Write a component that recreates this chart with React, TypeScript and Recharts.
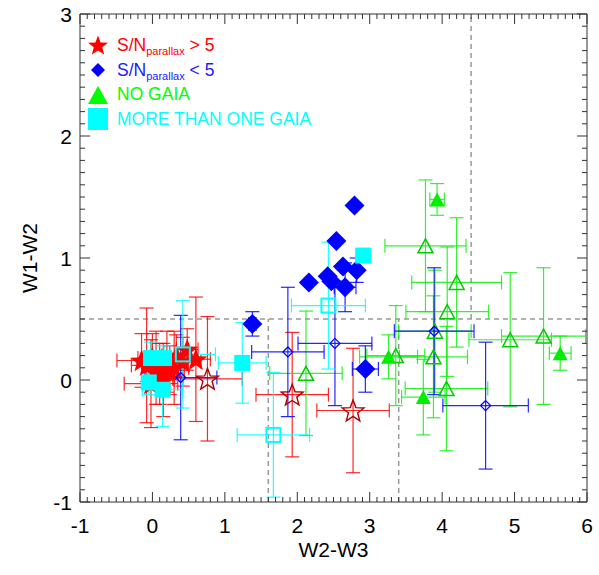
import React from 'react';
import { ScatterChart, Scatter, XAxis, YAxis, ErrorBar, ReferenceLine, Legend, Label } from 'recharts';

// ---------- data ----------
const redFilledX = [-0.15, -0.08, 0.0, -0.02, 0.1, 0.24, 0.33, 0.48, 0.6, 0.42, 0.05, 0.2, 0.3, 0.15];
const redFilledY = [0.16, 0.12, 0.18, -0.03, 0.05, 0.08, 0.2, 0.25, 0.17, 0.15, 0.1, 0.15, 0.1, 0.0];
const redFilledEx = [0.34, 0.21, 0.2, 0.37, 0.2, 0.2, 0.2, 0.15, 0.2, 0.25, 0.15, 0.15, 0.2, 0.15];
const redFilledEy = [0.22, 0.47, 0.2, 0.36, 0.25, 0.2, 0.17, 0.17, 0.51, 0.2, 0.3, 0.25, 0.3, 0.3];

const redOpenX = [0.76, 1.93, 2.77];
const redOpenY = [0.01, -0.12, -0.25];
const redOpenEx = [0.48, 0.5, 0.5];
const redOpenEy = [0.51, 0.51, 0.51];

const blueFilledX = [2.79, 2.54, 2.63, 2.82, 2.42, 2.16, 2.47, 2.66, 1.38, 2.94];
const blueFilledY = [1.43, 1.14, 0.93, 0.9, 0.85, 0.8, 0.81, 0.76, 0.46, 0.09];
const blueFilledEx = [0, 0, 0, 0, 0, 0, 0, 0.15, 0.05, 0.18];
const blueFilledEy = [0, 0, 0, 0.1, 0, 0, 0, 0.2, 0.1, 0.19];

const blueOpenX = [0.39, 1.87, 2.52, 3.89, 4.6];
const blueOpenY = [0.02, 0.23, 0.3, 0.4, -0.21];
const blueOpenEx = [0.5, 0.5, 0.51, 0.55, 0.59];
const blueOpenEy = [0.51, 0.53, 0.51, 0.52, 0.52];

const greenFilledX = [3.93, 3.26, 3.74, 5.63];
const greenFilledY = [1.48, 0.19, -0.14, 0.22];
const greenFilledEx = [0.1, 0.4, 0.3, 0.15];
const greenFilledEy = [0.13, 0.18, 0.31, 0.14];

const greenOpenX = [3.77, 4.2, 4.07, 3.9, 3.36, 3.88, 4.06, 4.94, 5.4, 2.12];
const greenOpenY = [1.1, 0.8, 0.56, 0.4, 0.2, 0.19, -0.07, 0.33, 0.36, 0.055];
const greenOpenEx = [0.56, 0.62, 0.57, 0.5, 0.4, 0.47, 0.57, 0.57, 0.58, 0.5];
const greenOpenEy = [0.54, 0.53, 0.53, 0.5, 0.41, 0.5, 0.51, 0.55, 0.56, 0.51];

const cyanFilledX = [-0.02, 0.16, -0.05, 0.14, 1.24, 2.91];
const cyanFilledY = [0.18, 0.18, -0.02, -0.08, 0.14, 1.02];
const cyanFilledEx = [0.1, 0.1, 0.1, 0.28, 0.33, 0];
const cyanFilledEy = [0.13, 0.1, 0.1, 0.3, 0.33, 0];

const cyanOpenX = [0.42, 2.43, 1.67];
const cyanOpenY = [0.21, 0.61, -0.45];
const cyanOpenEx = [0.45, 0.51, 0.5];
const cyanOpenEy = [0.44, 0.52, 0.51];

const xDomain: [number, number] = [-1, 6];
const yDomain: [number, number] = [-1, 3];
const hCutY = 0.5;
const vCutTopX = 4.4;
const vCutLowX = [1.6, 3.4];

const legendLabels = ['S/N', 'S/N', 'NO GAIA', 'MORE THAN ONE GAIA'];

// ---------- helpers ----------
const build = (xs: number[], ys: number[], exs: number[], eys: number[]) =>
  xs.map((x, i) => ({ x, y: ys[i], ex: exs[i], ey: eys[i] }));

const steps = (lo: number, hi: number) => {
  const out: number[] = [];
  const n = Math.round((hi - lo) * 10);
  for (let i = 0; i <= n; i++) out.push(Math.round((lo + i / 10) * 10) / 10);
  return out;
};
const xTicks = steps(xDomain[0], xDomain[1]);
const yTicks = steps(yDomain[0], yDomain[1]);
const isMajor = (v: number) => Math.abs(v - Math.round(v)) < 1e-6;

const FONT = '"Liberation Sans", Arial, Helvetica, sans-serif';
const MAJ = 10;
const MIN = 5;
const TICK_COLOR = '#333';

const BottomTick = (p: any) => {
  const { x, y, payload } = p;
  const m = isMajor(payload.value);
  return (
    <g>
      <line x1={x} y1={y} x2={x} y2={y - (m ? MAJ : MIN)} stroke={TICK_COLOR} strokeWidth={1} />
      {m && (
        <text x={x} y={y + 31} textAnchor="middle" fontSize={21} fontFamily={FONT} fill="#000">
          {Math.round(payload.value)}
        </text>
      )}
    </g>
  );
};
const TopTick = (p: any) => {
  const { x, y, payload } = p;
  const m = isMajor(payload.value);
  return <line x1={x} y1={y} x2={x} y2={y + (m ? MAJ : MIN)} stroke={TICK_COLOR} strokeWidth={1} />;
};
const LeftTick = (p: any) => {
  const { x, y, payload } = p;
  const m = isMajor(payload.value);
  return (
    <g>
      <line x1={x} y1={y} x2={x + (m ? MAJ : MIN)} y2={y} stroke={TICK_COLOR} strokeWidth={1} />
      {m && (
        <text x={x - 8} y={y + 7.5} textAnchor="end" fontSize={21} fontFamily={FONT} fill="#000">
          {Math.round(payload.value)}
        </text>
      )}
    </g>
  );
};
const RightTick = (p: any) => {
  const { x, y, payload } = p;
  const m = isMajor(payload.value);
  return <line x1={x} y1={y} x2={x - (m ? MAJ : MIN)} y2={y} stroke={TICK_COLOR} strokeWidth={1} />;
};

const starPts = (cx: number, cy: number, R: number, ratio = 0.42) => {
  const pts: string[] = [];
  for (let i = 0; i < 10; i++) {
    const a = -Math.PI / 2 + (i * Math.PI) / 5;
    const r = i % 2 === 0 ? R : R * ratio;
    pts.push(`${cx + r * Math.cos(a)},${cy + r * Math.sin(a)}`);
  }
  return pts.join(' ');
};
const diamondPts = (cx: number, cy: number, h: number) =>
  `${cx},${cy - h} ${cx + h},${cy} ${cx},${cy + h} ${cx - h},${cy}`;
const triPts = (cx: number, cy: number, w: number, h: number) =>
  `${cx - w / 2},${cy + h / 2} ${cx + w / 2},${cy + h / 2} ${cx},${cy - h / 2}`;

const RedStar = (p: any) => <polygon points={starPts(p.cx, p.cy + 1, 12)} fill="#ff0000" />;
const RedStarOpen = (p: any) => (
  <polygon points={starPts(p.cx, p.cy + 1, 11.5)} fill="none" stroke="#b00000" strokeWidth={1.4} />
);
const BlueDiamond = (p: any) => <polygon points={diamondPts(p.cx, p.cy, 10)} fill="#0000ff" />;
const BlueDiamondOpen = (p: any) => (
  <polygon points={diamondPts(p.cx, p.cy, 5)} fill="none" stroke="#0000ff" strokeWidth={1.3} />
);
const GreenTri = (p: any) => <polygon points={triPts(p.cx, p.cy, 15, 14)} fill="#00ee00" />;
const GreenTriOpen = (p: any) => (
  <polygon points={triPts(p.cx, p.cy, 15, 14)} fill="none" stroke="#00cc00" strokeWidth={1.5} />
);
const CyanSq = (p: any) => <rect x={p.cx - 8} y={p.cy - 8} width={16} height={16} fill="#00ffff" />;
const CyanSqOpen = (p: any) => (
  <rect x={p.cx - 7} y={p.cy - 7} width={14} height={14} fill="none" stroke="#00ffff" strokeWidth={2} />
);

const LegendContent = () => {
  const rowH = 24.7;
  const textStyle = (c: string) => ({ color: c, fontSize: 17.5, fontFamily: FONT, marginLeft: 7, whiteSpace: 'nowrap' as const });
  const sub = { fontSize: 11, position: 'relative' as const, top: 4 };
  return (
    <div>
      <div style={{ height: rowH, display: 'flex', alignItems: 'center' }}>
        <svg width={24} height={24}><polygon points={starPts(12, 13, 10.5)} fill="#ff0000" /></svg>
        <span style={textStyle('#ff0000')}>{legendLabels[0]}<span style={sub}>parallax</span> &gt; 5</span>
      </div>
      <div style={{ height: rowH, display: 'flex', alignItems: 'center' }}>
        <svg width={24} height={24}><polygon points={diamondPts(12, 12, 7)} fill="#0000ff" /></svg>
        <span style={textStyle('#1a1aff')}>{legendLabels[1]}<span style={sub}>parallax</span> &lt; 5</span>
      </div>
      <div style={{ height: rowH, display: 'flex', alignItems: 'center' }}>
        <svg width={24} height={24}><polygon points={triPts(12, 12, 20, 18)} fill="#00ff00" /></svg>
        <span style={textStyle('#00ff00')}>{legendLabels[2]}</span>
      </div>
      <div style={{ height: rowH, display: 'flex', alignItems: 'center' }}>
        <svg width={24} height={24}><rect x={2} y={1} width={20} height={22} fill="#00ffff" /></svg>
        <span style={textStyle('#00ffff')}>{legendLabels[3]}</span>
      </div>
    </div>
  );
};

const XTitle = (p: any) => {
  const vb = p.viewBox;
  return (
    <text x={vb.x + vb.width / 2} y={vb.y + 55} textAnchor="middle" fontSize={21} fontFamily={FONT} fill="#000">
      W2-W3
    </text>
  );
};
const YTitle = (p: any) => {
  const vb = p.viewBox;
  const cx = vb.x + 37;
  const cy = vb.y + vb.height / 2;
  return (
    <text x={cx} y={cy} transform={`rotate(-90 ${cx} ${cy})`} textAnchor="middle" fontSize={21} fontFamily={FONT} fill="#000">
      W1-W2
    </text>
  );
};

const series = [
  { key: 'rf', data: build(redFilledX, redFilledY, redFilledEx, redFilledEy), shape: RedStar, bar: '#ff0000' },
  { key: 'ro', data: build(redOpenX, redOpenY, redOpenEx, redOpenEy), shape: RedStarOpen, bar: '#ff0000' },
  { key: 'go', data: build(greenOpenX, greenOpenY, greenOpenEx, greenOpenEy), shape: GreenTriOpen, bar: '#11ee11' },
  { key: 'gf', data: build(greenFilledX, greenFilledY, greenFilledEx, greenFilledEy), shape: GreenTri, bar: '#11ee11' },
  { key: 'bo', data: build(blueOpenX, blueOpenY, blueOpenEx, blueOpenEy), shape: BlueDiamondOpen, bar: '#0000ff' },
  { key: 'bf', data: build(blueFilledX, blueFilledY, blueFilledEx, blueFilledEy), shape: BlueDiamond, bar: '#0000ff' },
  { key: 'co', data: build(cyanOpenX, cyanOpenY, cyanOpenEx, cyanOpenEy), shape: CyanSqOpen, bar: '#00ffff' },
  { key: 'cf', data: build(cyanFilledX, cyanFilledY, cyanFilledEx, cyanFilledEy), shape: CyanSq, bar: '#00ffff' },
];

export default function App() {
  return (
    <div style={{ position: 'absolute', left: 0, top: 0, width: 599, height: 575, background: '#fff' }}>
      <ScatterChart width={599} height={575} margin={{ top: 0, right: 0, bottom: 0, left: 0 }}>
        <XAxis
          xAxisId="b" orientation="bottom" type="number" dataKey="x" domain={xDomain} allowDataOverflow
          ticks={xTicks} interval={0} tickSize={0} tickMargin={0} tickLine={false} tick={BottomTick}
          height={73} stroke="#333"
        >
          <Label content={XTitle} />
        </XAxis>
        <XAxis
          xAxisId="t" orientation="top" type="number" dataKey="x" domain={xDomain} allowDataOverflow
          ticks={xTicks} interval={0} tickSize={0} tickMargin={0} tickLine={false} tick={TopTick}
          height={14} stroke="#333"
        />
        <YAxis
          yAxisId="l" orientation="left" type="number" dataKey="y" domain={yDomain} allowDataOverflow
          ticks={yTicks} interval={0} tickSize={0} tickMargin={0} tickLine={false} tick={LeftTick}
          width={80} stroke="#333"
        >
          <Label content={YTitle} />
        </YAxis>
        <YAxis
          yAxisId="r" orientation="right" type="number" dataKey="y" domain={yDomain} allowDataOverflow
          ticks={yTicks} interval={0} tickSize={0} tickMargin={0} tickLine={false} tick={RightTick}
          width={12} stroke="#333"
        />
        <ReferenceLine xAxisId="b" yAxisId="l" segment={[{ x: xDomain[0], y: hCutY }, { x: xDomain[1], y: hCutY }]}
          stroke="#999" strokeDasharray="5 4" strokeWidth={1.5} />
        <ReferenceLine xAxisId="b" yAxisId="l" segment={[{ x: vCutTopX, y: hCutY }, { x: vCutTopX, y: yDomain[1] }]}
          stroke="#999" strokeDasharray="5 4" strokeWidth={1.5} />
        {vCutLowX.map((v) => (
          <ReferenceLine key={v} xAxisId="b" yAxisId="l" segment={[{ x: v, y: yDomain[0] }, { x: v, y: hCutY }]}
            stroke="#999" strokeDasharray="5 4" strokeWidth={1.5} />
        ))}
        {series.map((s) => (
          <Scatter key={s.key} xAxisId="b" yAxisId="l" data={s.data} shape={s.shape} isAnimationActive={false}>
            <ErrorBar dataKey="ex" direction="x" width={7} stroke={s.bar} strokeOpacity={0.85} strokeWidth={1.2} />
            <ErrorBar dataKey="ey" direction="y" width={7} stroke={s.bar} strokeOpacity={0.85} strokeWidth={1.2} />
          </Scatter>
        ))}
        <Legend
          layout="vertical" align="center" verticalAlign="middle"
          wrapperStyle={{ top: 33, left: 86, width: 'auto', height: 'auto' }}
          content={LegendContent}
        />
      </ScatterChart>
    </div>
  );
}
